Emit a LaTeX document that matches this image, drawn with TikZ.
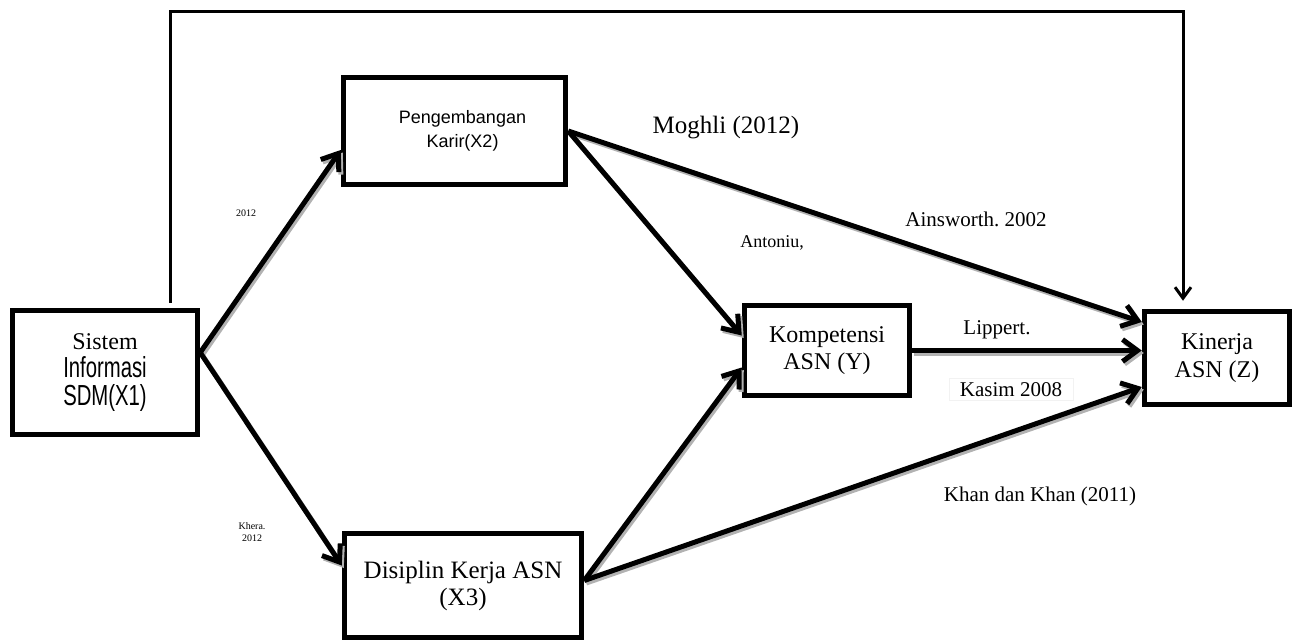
\documentclass[tikz,border=0pt]{standalone}
\usepackage{fontspec}
\setmainfont{Liberation Serif}
\newfontfamily\arialf{Liberation Sans}
\usetikzlibrary{arrows.meta,calc}
\frenchspacing
\newcommand\myconnectors[1]{%
  \draw[#1] ([yshift=20pt]X1.east) -- ([yshift=-19pt]X2.west);
  \draw[#1] ([yshift=20pt]X1.east) -- ([yshift=20pt]X3.west);
  \draw[#1] (X2.east) -- ([yshift=15pt]Y.west);
  \draw[#1] (X2.east) -- ([yshift=36pt]Z.west);
  \draw[#1] (Y.east) -- (Y.east -| Z.west);
  \draw[#1] ([yshift=5pt]X3.east) -- ([yshift=-17pt]Y.west);
  \draw[#1] ([yshift=5pt]X3.east) -- ([yshift=-29pt]Z.west);
}
\begin{document}
\begin{tikzpicture}[x=1pt,y=-1pt,
  box/.style={draw, line width=5.5pt, rectangle, inner sep=0pt, align=center},
  arr/.style={line width=5pt, -{Straight Barb[length=15pt,width=22pt]}},
  arrshadow/.style={arr, draw=black!30},
  fb/.style={line width=3pt, -{Straight Barb[length=11pt,width=16pt]}},
  lbl/.style={inner sep=0pt, anchor=base, font=\fontsize{21}{24}\selectfont},
  tinylbl/.style={inner sep=0pt, anchor=base, font=\fontsize{10}{12}\selectfont}
]
\useasboundingbox (0,0) rectangle (1296,642);

\node[box, minimum width=185pt, minimum height=124pt, font=\fontsize{24}{28}\selectfont] (X1) at (105,372.5)
  {Sistem\\\scalebox{0.7}[1]{\fontsize{29}{28}\selectfont\arialf Informasi}\\\scalebox{0.7}[1]{\fontsize{29}{28}\selectfont\arialf SDM(X1)}};
\node[box, minimum width=222pt, minimum height=107pt, font=\fontsize{18}{24}\selectfont\arialf] (X2) at (454.5,131)
  {\hspace*{16pt}Pengembangan\\\hspace*{16pt}Karir(X2)};
\node[box, minimum width=165pt, minimum height=90pt, font=\fontsize{24}{27}\selectfont] (Y) at (827,350.5)
  {Kompetensi\\ASN (Y)};
\node[box, minimum width=145pt, minimum height=93pt, font=\fontsize{24}{28}\selectfont] (Z) at (1217,358)
  {Kinerja\\ASN (Z)};
\node[box, minimum width=237pt, minimum height=104pt, font=\fontsize{25}{27}\selectfont] (X3) at (463,585.5)
  {Disiplin Kerja ASN\\(X3)};

\coordinate (FL) at (170,12);
\coordinate (FR) at (1183,12);
\draw[fb] ([xshift=65pt,yshift=5pt]X1.north) -- (FL) -- (FR) -- ([xshift=-34pt,yshift=8pt]Z.north);

\begin{scope}[transform canvas={shift={(2pt,-2.5pt)}}]
  \myconnectors{arrshadow}
\end{scope}
\myconnectors{arr}

\node[lbl, font=\fontsize{25}{28}\selectfont] (moghli) at (726,133) {Moghli (2012)};
\node[lbl] (ains) at (976,226) {Ainsworth. 2002};
\node[lbl, font=\fontsize{18}{20}\selectfont] (anton) at (772,247) {Antoniu,};
\node[lbl] (lipp) at (997,334) {Lippert.};
\node[lbl, fill=white, draw=black!5, line width=0.8pt, inner xsep=11pt, inner ysep=4pt] (kasim) at (1011,396) {Kasim 2008};
\node[lbl] (khan) at (1040,501) {Khan dan Khan (2011)};
\node[tinylbl] (t1) at (246,216) {2012};
\node[tinylbl] (t2) at (252,529) {Khera.};
\node[tinylbl] (t3) at (252,541) {2012};
\end{tikzpicture}
\end{document}
